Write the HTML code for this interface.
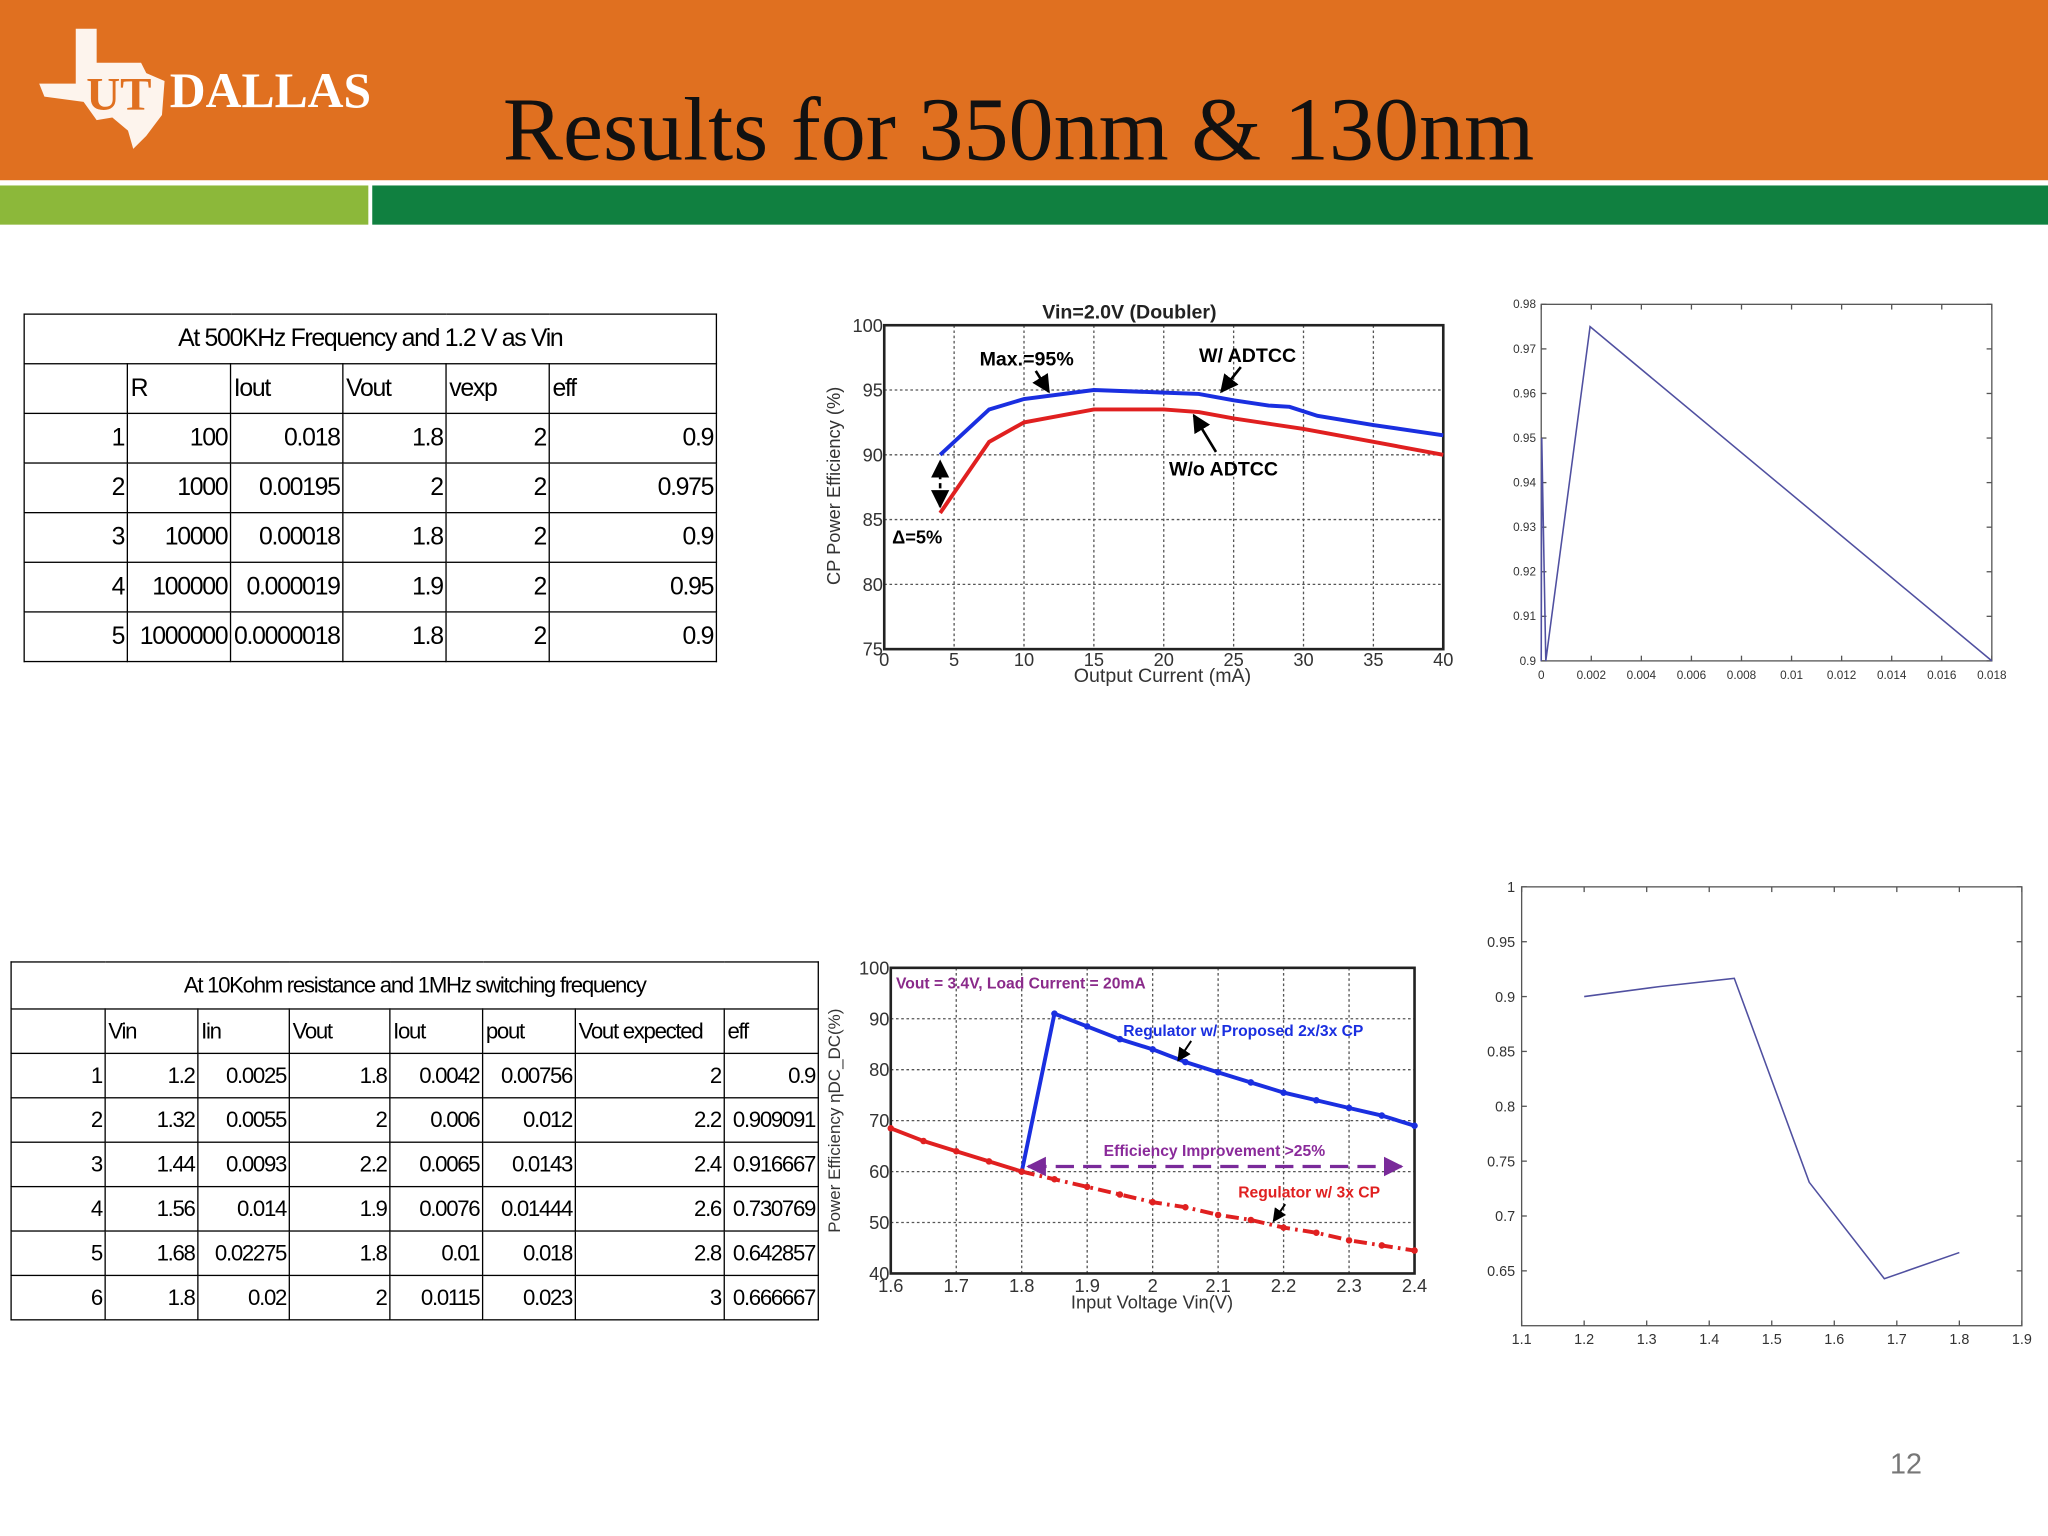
<!DOCTYPE html>
<html><head><meta charset="utf-8"><style>
html,body{margin:0;padding:0;width:2048px;height:1536px;overflow:hidden;background:#fff}
#page{position:absolute;left:0;top:0;width:1568px;height:1176px;transform:scale(1.306122);transform-origin:0 0;font-family:"Liberation Sans",sans-serif}
.tbl{position:absolute;border-collapse:collapse;table-layout:fixed;font-family:"Liberation Sans Narrow","Liberation Sans",sans-serif;color:#000;letter-spacing:-1px}
.tbl td{border:1.5px solid #000;padding:0 2px;text-align:right;white-space:nowrap;overflow:hidden}
.tbl td.h{text-align:left}
.tbl td.t{text-align:center}
</style></head><body>
<div id="page">
<div style="position:absolute;left:0;top:0;width:1568px;height:138px;background:#e07020"></div>
<div style="position:absolute;left:0;top:142px;width:282px;height:30px;background:#8cb83a"></div>
<div style="position:absolute;left:285px;top:142px;width:1283px;height:30px;background:#108040"></div>
<div style="position:absolute;left:28px;top:18px;width:260px;height:100px">
<svg width="260" height="100"><polygon points="30,4 46,4 46,30 80,30 84,38 98,44 96,70 84,86 74,96 70,82 58,72 46,74 36,60 6,56 2,46 30,46" fill="#fff" opacity="0.92"/>
<text x="38" y="66" font-family="Liberation Serif,serif" font-weight="bold" font-size="36" fill="#e07020">UT</text>
<text x="102" y="64" font-family="Liberation Serif,serif" font-weight="bold" font-size="38" fill="#fff">DALLAS</text></svg></div>
<div style="position:absolute;left:385px;top:60px;font-family:'Liberation Serif',serif;font-size:69px;color:#111;white-space:nowrap">Results for 350nm &amp; 130nm</div>

<table class="tbl" style="left:18px;top:240px;width:531px;font-size:19px">
<colgroup><col style="width:79px"><col style="width:79px"><col style="width:86px"><col style="width:79px"><col style="width:79px"><col style="width:128px"></colgroup>
<tr style="height:38px"><td class="t" colspan="6">At 500KHz Frequency and 1.2 V as Vin</td></tr>
<tr style="height:38px"><td></td><td class="h">R</td><td class="h">Iout</td><td class="h">Vout</td><td class="h">vexp</td><td class="h">eff</td></tr>
<tr style="height:38px"><td>1</td><td>100</td><td>0.018</td><td>1.8</td><td>2</td><td>0.9</td></tr>
<tr style="height:38px"><td>2</td><td>1000</td><td>0.00195</td><td>2</td><td>2</td><td>0.975</td></tr>
<tr style="height:38px"><td>3</td><td>10000</td><td>0.00018</td><td>1.8</td><td>2</td><td>0.9</td></tr>
<tr style="height:38px"><td>4</td><td>100000</td><td>0.000019</td><td>1.9</td><td>2</td><td>0.95</td></tr>
<tr style="height:38px"><td>5</td><td>1000000</td><td>0.0000018</td><td>1.8</td><td>2</td><td>0.9</td></tr>
</table>

<table class="tbl" style="left:8px;top:736px;width:618px;font-size:17px">
<colgroup><col style="width:72px"><col style="width:71px"><col style="width:70px"><col style="width:77px"><col style="width:71px"><col style="width:71px"><col style="width:114px"><col style="width:72px"></colgroup>
<tr style="height:36px"><td class="t" colspan="8">At 10Kohm resistance and 1MHz switching frequency</td></tr>
<tr style="height:34px"><td></td><td class="h">Vin</td><td class="h">Iin</td><td class="h">Vout</td><td class="h">Iout</td><td class="h">pout</td><td class="h">Vout expected</td><td class="h">eff</td></tr>
<tr style="height:34px"><td>1</td><td>1.2</td><td>0.0025</td><td>1.8</td><td>0.0042</td><td>0.00756</td><td>2</td><td>0.9</td></tr>
<tr style="height:34px"><td>2</td><td>1.32</td><td>0.0055</td><td>2</td><td>0.006</td><td>0.012</td><td>2.2</td><td>0.909091</td></tr>
<tr style="height:34px"><td>3</td><td>1.44</td><td>0.0093</td><td>2.2</td><td>0.0065</td><td>0.0143</td><td>2.4</td><td>0.916667</td></tr>
<tr style="height:34px"><td>4</td><td>1.56</td><td>0.014</td><td>1.9</td><td>0.0076</td><td>0.01444</td><td>2.6</td><td>0.730769</td></tr>
<tr style="height:34px"><td>5</td><td>1.68</td><td>0.02275</td><td>1.8</td><td>0.01</td><td>0.018</td><td>2.8</td><td>0.642857</td></tr>
<tr style="height:34px"><td>6</td><td>1.8</td><td>0.02</td><td>2</td><td>0.0115</td><td>0.023</td><td>3</td><td>0.666667</td></tr>
</table>

<div style="position:absolute;left:1447px;top:1108px;font-size:22px;color:#777">12</div>

<svg id="charts" width="1568" height="1176" style="position:absolute;left:0;top:0" xmlns="http://www.w3.org/2000/svg">
<defs>
<marker id="ah" viewBox="0 0 10 10" refX="9" refY="5" markerWidth="7" markerHeight="7" orient="auto-start-reverse"><path d="M0,0L10,5L0,10z" fill="#000"/></marker>
<marker id="ahp" viewBox="0 0 10 10" refX="9" refY="5" markerWidth="6" markerHeight="6" orient="auto-start-reverse"><path d="M0,0L10,5L0,10z" fill="#7a2a9a"/></marker>
</defs>
</svg>
</div>
<script>
// Chart 1: CP efficiency vs output current
const c1XTicks=[0,5,10,15,20,25,30,35,40];
const c1YTicks=[75,80,85,90,95,100];
const c1BlueX=[4,7.5,10,15,20,22.5,25,27.5,29,31,35,40];
const c1BlueY=[90,93.5,94.3,95,94.8,94.7,94.2,93.8,93.7,93,92.3,91.5];
const c1RedX=[4,7.5,10,15,20,22.5,25,30,35,40];
const c1RedY=[85.5,91,92.5,93.5,93.5,93.3,92.8,92,91,90];
// Chart 2: eff vs Iout (table 1)
const c2XTicks=[0,0.002,0.004,0.006,0.008,0.01,0.012,0.014,0.016,0.018];
const c2XLabels=["0","0.002","0.004","0.006","0.008","0.01","0.012","0.014","0.016","0.018"];
const c2YTicks=[0.9,0.91,0.92,0.93,0.94,0.95,0.96,0.97,0.98];
const c2X=[0.018,0.00195,0.00018,0.000019,0.0000018];
const c2Y=[0.9,0.975,0.9,0.95,0.9];
// Chart 3: efficiency vs input voltage
const c3XTicks=[1.6,1.7,1.8,1.9,2,2.1,2.2,2.3,2.4];
const c3YTicks=[40,50,60,70,80,90,100];
const c3BlueX=[1.8,1.85,1.9,1.95,2.0,2.05,2.1,2.15,2.2,2.25,2.3,2.35,2.4];
const c3BlueY=[60,91,88.5,86,84,81.5,79.5,77.5,75.5,74,72.5,71,69];
const c3RedX=[1.6,1.65,1.7,1.75,1.8];
const c3RedY=[68.5,66,64,62,60];
const c3DashX=[1.8,1.85,1.9,1.95,2.0,2.05,2.1,2.15,2.2,2.25,2.3,2.35,2.4];
const c3DashY=[60,58.5,57,55.5,54,53,51.5,50.5,49,48,46.5,45.5,44.5];
// Chart 4: eff vs Vin (table 2)
const c4XTicks=[1.1,1.2,1.3,1.4,1.5,1.6,1.7,1.8,1.9];
const c4YTicks=[0.65,0.7,0.75,0.8,0.85,0.9,0.95,1];
const c4X=[1.2,1.32,1.44,1.56,1.68,1.8];
const c4Y=[0.9,0.909091,0.916667,0.730769,0.642857,0.666667];

const svg=document.getElementById('charts');
const NS='http://www.w3.org/2000/svg';
function mk(tag,attrs,parent){const e=document.createElementNS(NS,tag);for(const k in attrs)e.setAttribute(k,attrs[k]);(parent||svg).appendChild(e);return e;}
function txt(x,y,s,attrs,parent){const t=mk('text',Object.assign({x:x,y:y},attrs),parent);t.textContent=s;return t;}
function scale(d0,d1,r0,r1){return v=>r0+(v-d0)/(d1-d0)*(r1-r0);}
function pts(xs,ys,sx,sy){return xs.map((v,i)=>sx(v).toFixed(1)+','+sy(ys[i]).toFixed(1)).join(' ');}

// ---- Chart 1
(function(){
const g=mk('g',{});


const L=677,R=1105,T=249,B=497;
const sx=scale(0,40,L,R), sy=scale(75,100,B,T);
c1XTicks.forEach(v=>{const l=mk('line',{x1:sx(v),x2:sx(v),y1:T,y2:B,stroke:'#555','stroke-width':1,'stroke-dasharray':'2,2'},g);
 const t=txt(sx(v),510,String(v),{'font-size':14,'text-anchor':'middle',fill:'#333'},g);});
c1YTicks.forEach(v=>{const l=mk('line',{x1:L,x2:R,y1:sy(v),y2:sy(v),stroke:'#555','stroke-width':1,'stroke-dasharray':'2,2'},g);
 const t=txt(L-1,sy(v)+5,String(v),{'font-size':14,'text-anchor':'end',fill:'#333'},g);});
mk('rect',{x:L,y:T,width:R-L,height:B-T,fill:'none',stroke:'#222','stroke-width':2},g);
const b=mk('polyline',{points:pts(c1BlueX,c1BlueY,sx,sy),fill:'none',stroke:'#1a2fe0','stroke-width':3},g);

const r=mk('polyline',{points:pts(c1RedX,c1RedY,sx,sy),fill:'none',stroke:'#e02020','stroke-width':3},g);

mk('line',{x1:sx(4),x2:sx(4),y1:sy(86),y2:sy(89.5),stroke:'#000','stroke-width':2,'stroke-dasharray':'4,3','marker-start':'url(#ah)','marker-end':'url(#ah)'},g);
const t1=txt(798,244,'Vin=2.0V (Doubler)',{'font-size':15,'font-weight':'bold',fill:'#222'},g);
txt(750,280,'Max.=95%',{'font-size':15,'font-weight':'bold'},g);
txt(918,277,'W/ ADTCC',{'font-size':15,'font-weight':'bold'},g);
txt(895,364,'W/o ADTCC',{'font-size':15,'font-weight':'bold'},g);
txt(683,416,'Δ=5%',{'font-size':14,'font-weight':'bold'},g);
mk('line',{x1:793,x2:803,y1:284,y2:300,stroke:'#000','stroke-width':2,'marker-end':'url(#ah)'},g);
mk('line',{x1:950,x2:935,y1:281,y2:300,stroke:'#000','stroke-width':2,'marker-end':'url(#ah)'},g);
mk('line',{x1:931,x2:914,y1:346,y2:318,stroke:'#000','stroke-width':2,'marker-end':'url(#ah)'},g);
const xl=txt(890,522,'Output Current (mA)',{'font-size':15,'text-anchor':'middle',fill:'#333'},g);
const yl=txt(0,0,'CP Power Efficiency (%)',{'font-size':14,'text-anchor':'middle',fill:'#333',transform:'translate(643,372) rotate(-90)'},g);
})();

// ---- Chart 2
(function(){
const g=mk('g',{});


const L=1180,R=1525,T=233,B=506;
const sx=scale(0,0.018,L,R), sy=scale(0.9,0.98,B,T);
mk('rect',{x:L,y:T,width:R-L,height:B-T,fill:'none',stroke:'#555','stroke-width':1},g);
c2XTicks.forEach((v,i)=>{mk('line',{x1:sx(v),x2:sx(v),y1:B,y2:B-4,stroke:'#555'},g);mk('line',{x1:sx(v),x2:sx(v),y1:T,y2:T+4,stroke:'#555'},g);
 const t=txt(sx(v),520,c2XLabels[i],{'font-size':9,'text-anchor':'middle',fill:'#333'},g);});
c2YTicks.forEach(v=>{mk('line',{x1:L,x2:L+4,y1:sy(v),y2:sy(v),stroke:'#555'},g);mk('line',{x1:R,x2:R-4,y1:sy(v),y2:sy(v),stroke:'#555'},g);
 const t=txt(L-4,sy(v)+3,String(v),{'font-size':9,'text-anchor':'end',fill:'#333'},g);});
const p=mk('polyline',{points:pts(c2X,c2Y,sx,sy),fill:'none',stroke:'#5050a0','stroke-width':1.2},g);

})();

// ---- Chart 3
(function(){
const g=mk('g',{});


const L=682,R=1083,T=741,B=975;
const sx=scale(1.6,2.4,L,R), sy=scale(40,100,B,T);
c3XTicks.forEach(v=>{mk('line',{x1:sx(v),x2:sx(v),y1:T,y2:B,stroke:'#555','stroke-width':1,'stroke-dasharray':'2,2'},g);
 const t=txt(sx(v),989,String(v),{'font-size':14,'text-anchor':'middle',fill:'#333'},g);});
c3YTicks.forEach(v=>{mk('line',{x1:L,x2:R,y1:sy(v),y2:sy(v),stroke:'#555','stroke-width':1,'stroke-dasharray':'2,2'},g);
 const t=txt(L-1,sy(v)+5,String(v),{'font-size':14,'text-anchor':'end',fill:'#333'},g);});
mk('rect',{x:L,y:T,width:R-L,height:B-T,fill:'none',stroke:'#222','stroke-width':2},g);
const b=mk('polyline',{points:pts(c3BlueX,c3BlueY,sx,sy),fill:'none',stroke:'#1a2fe0','stroke-width':3},g);

const r=mk('polyline',{points:pts(c3RedX,c3RedY,sx,sy),fill:'none',stroke:'#e02020','stroke-width':3},g);

const d=mk('polyline',{points:pts(c3DashX,c3DashY,sx,sy),fill:'none',stroke:'#e02020','stroke-width':3,'stroke-dasharray':'10,4,2,4'},g);

c3BlueX.forEach((v,i)=>mk('circle',{cx:sx(v),cy:sy(c3BlueY[i]),r:2.5,fill:'#1a2fe0'},g));
c3RedX.forEach((v,i)=>mk('circle',{cx:sx(v),cy:sy(c3RedY[i]),r:2.5,fill:'#e02020'},g));
c3DashX.forEach((v,i)=>mk('circle',{cx:sx(v),cy:sy(c3DashY[i]),r:2.5,fill:'#e02020'},g));
mk('line',{x1:sx(1.81),x2:sx(2.38),y1:sy(61),y2:sy(61),stroke:'#7a2a9a','stroke-width':2.5,'stroke-dasharray':'14,7','marker-start':'url(#ahp)','marker-end':'url(#ahp)'},g);
txt(686,757,'Vout = 3.4V, Load Current = 20mA',{'font-size':12,'font-weight':'bold',fill:'#8a2a8a'},g);
txt(860,793,'Regulator w/ Proposed 2x/3x CP',{'font-size':12,'font-weight':'bold',fill:'#1a2fe0'},g);
txt(845,885,'Efficiency Improvement >25%',{'font-size':12,'font-weight':'bold',fill:'#8a2a9a'},g);
txt(948,917,'Regulator w/ 3x CP',{'font-size':12,'font-weight':'bold',fill:'#e02020'},g);
mk('line',{x1:912,x2:902,y1:797,y2:812,stroke:'#000','stroke-width':1.5,'marker-end':'url(#ah)'},g);
mk('line',{x1:984,x2:975,y1:922,y2:935,stroke:'#000','stroke-width':1.5,'marker-end':'url(#ah)'},g);
const xl=txt(882,1002,'Input Voltage Vin(V)',{'font-size':14,'text-anchor':'middle',fill:'#333'},g);
const yl=txt(0,0,'Power Efficiency ηDC_DC(%)',{'font-size':13,'text-anchor':'middle',fill:'#333',transform:'translate(643,858) rotate(-90)'},g);
})();

// ---- Chart 4
(function(){
const g=mk('g',{});


const L=1165,R=1548,T=679,B=1015;
const sx=scale(1.1,1.9,L,R), sy=scale(0.6,1,B,T);
mk('rect',{x:L,y:T,width:R-L,height:B-T,fill:'none',stroke:'#555','stroke-width':1},g);
c4XTicks.forEach(v=>{mk('line',{x1:sx(v),x2:sx(v),y1:B,y2:B-4,stroke:'#555'},g);mk('line',{x1:sx(v),x2:sx(v),y1:T,y2:T+4,stroke:'#555'},g);
 const t=txt(sx(v),1029,String(v),{'font-size':11,'text-anchor':'middle',fill:'#333'},g);});
c4YTicks.forEach(v=>{mk('line',{x1:L,x2:L+4,y1:sy(v),y2:sy(v),stroke:'#555'},g);mk('line',{x1:R,x2:R-4,y1:sy(v),y2:sy(v),stroke:'#555'},g);
 const t=txt(L-5,sy(v)+4,String(v),{'font-size':11,'text-anchor':'end',fill:'#333'},g);});
const p=mk('polyline',{points:pts(c4X,c4Y,sx,sy),fill:'none',stroke:'#5050a0','stroke-width':1.2},g);

})();
</script>
</body></html>
